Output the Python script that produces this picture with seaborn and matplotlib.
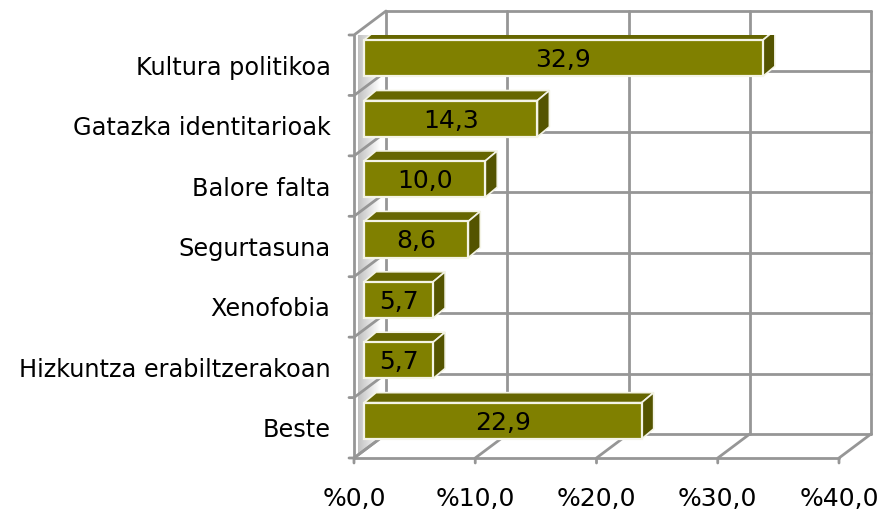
import seaborn as sns
import matplotlib.pyplot as plt
import pandas as pd
from matplotlib.patches import Polygon
from matplotlib.transforms import Affine2D

categories = ['Kultura politikoa', 'Gatazka identitarioak', 'Balore falta', 'Segurtasuna',
              'Xenofobia', 'Hizkuntza erabiltzerakoan', 'Beste']
values = [32.9, 14.3, 10.0, 8.6, 5.7, 5.7, 22.9]
value_labels = ['32,9', '14,3', '10,0', '8,6', '5,7', '5,7', '22,9']
x_ticks = [0, 10, 20, 30, 40]
x_tick_labels = ['%0,0', '%10,0', '%20,0', '%30,0', '%40,0']

W, H = 893, 513
GRID = '#969696'
FRONT = '#808000'
TOP = '#666600'
SIDE = '#545400'
EDGE = '#f4f4e6'
FS = 17.3
LW = 2.0

sns.set_theme(style='white')
plt.rcParams['font.family'] = ['DejaVu Sans']

df = pd.DataFrame({'cat': categories, 'val': values})

fig = plt.figure(figsize=(W / 100, H / 100), dpi=100)
# front plane of the fake 3d box, in pixels
ax = fig.add_axes([354 / W, 1 - 458 / H, 485 / W, 423 / H])
sns.barplot(data=df, y='cat', x='val', color=FRONT, saturation=1, width=0.6, ax=ax, zorder=5)
ax.set_xlim(0, 40)
ax.set_ylim(6.5, -0.5)
ax.set_xlabel('')
ax.set_ylabel('')
sns.despine(ax=ax, left=True, bottom=True)
ax.patch.set_alpha(0)

# offsets in pixels (y up)
back = Affine2D().translate(32, 24)
bar_off = Affine2D().translate(10, 7)
dep = (12, 10)
back_t = ax.transData + back
n = len(categories)
edges = [i - 0.5 for i in range(n + 1)]

# left wall, grey fading to white towards the back
slope = 24 / 32
band = 423 / n
for dx in range(4, 27):
    shade = min(1.0, 0.76 + (dx - 4) * 0.011)
    for e in edges[1:]:
        p = ax.transData.transform([(0, e)])[0]
        y = p[1] + dx * slope
        ax.add_artist(Polygon([(p[0] + dx, y), (p[0] + dx + 1, y + slope),
                               (p[0] + dx + 1, y + slope + band), (p[0] + dx, y + band)],
                              transform=None, fc=str(shade), ec='none', zorder=1))

for e in edges:
    ax.plot([0, 40], [e, e], color=GRID, lw=LW, transform=back_t, clip_on=False, zorder=2)
    p = ax.transData.transform([(0, e)])[0]
    ax.plot([p[0] - 5, p[0], p[0] + 32], [p[1], p[1], p[1] + 24], color=GRID, lw=LW,
            transform=None, clip_on=False, zorder=3)
for t in x_ticks:
    ax.plot([t, t], [-0.5, 6.5], color=GRID, lw=LW, transform=back_t, clip_on=False, zorder=2)
    p = ax.transData.transform([(t, 6.5)])[0]
    ax.plot([p[0], p[0], p[0] + 32], [p[1] - 5, p[1], p[1] + 24], color=GRID, lw=LW,
            transform=None, clip_on=False, zorder=3)
ax.plot([0, 0], [-0.5, 6.5], color=GRID, lw=LW, clip_on=False, zorder=3)
ax.plot([0, 40], [6.5, 6.5], color=GRID, lw=LW, clip_on=False, zorder=3)

# bars: shift off the wall and add the top and side faces
for bar, label in zip(ax.patches, value_labels):
    x0, w = bar.get_x(), bar.get_width()
    y0, h = bar.get_y(), bar.get_height()
    a = ax.transData.transform([(x0, y0 + h), (x0 + w, y0)]) + (10, 7)
    l, b, r, t = a[0][0], a[0][1], a[1][0], a[1][1]
    bar.set_transform(ax.transData + bar_off)
    bar.set_edgecolor(EDGE)
    bar.set_linewidth(1.6)
    ax.add_artist(Polygon([(l, t), (l + dep[0], t + dep[1]), (r + dep[0], t + dep[1]), (r, t)],
                          transform=None, fc=TOP, ec=EDGE, lw=1.2, zorder=4))
    ax.add_artist(Polygon([(r, b), (r, t), (r + dep[0], t + dep[1]), (r + dep[0], b + dep[1])],
                          transform=None, fc=SIDE, ec=EDGE, lw=1.2, zorder=4))
    ax.text(x0 + w / 2, y0 + h / 2, label, ha='center', va='center', fontsize=18, color='black',
            transform=ax.transData + Affine2D().translate(10, 5), zorder=6)

ax.set_xticks(x_ticks)
ax.set_xticklabels(x_tick_labels, fontsize=18, color='black')
ax.set_yticks(range(n))
ax.set_yticklabels(categories, fontsize=FS, color='black')
ax.tick_params(axis='x', length=0, pad=21)
ax.tick_params(axis='y', length=0, pad=17)

fig.savefig('out.png', dpi=100)
